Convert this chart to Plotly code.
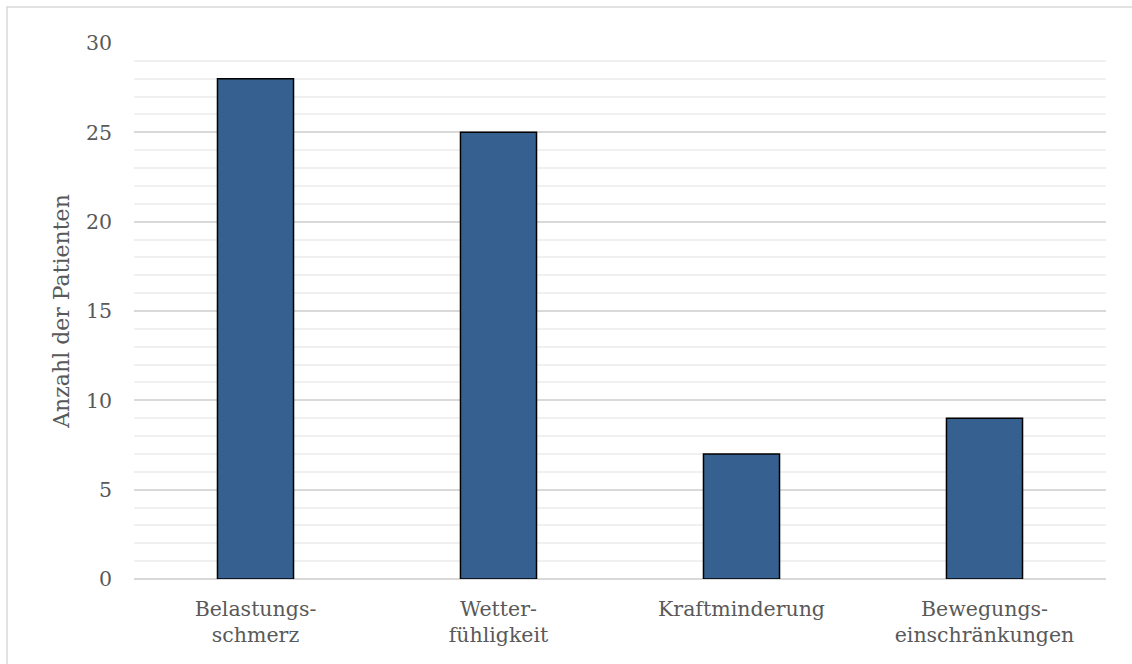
import plotly.graph_objects as go

categories = ["Belastungs-<br>schmerz", "Wetter-<br>fühligkeit", "Kraftminderung", "Bewegungs-<br>einschränkungen"]
values = [28, 25, 7, 9]
y_ticks = [0, 5, 10, 15, 20, 25, 30]
y_title = "Anzahl der Patienten"

FONT = "DejaVu Serif"
TXT = "#595959"

fig = go.Figure(go.Bar(
    x=categories, y=values,
    marker=dict(color="#35608F", line=dict(color="#000000", width=1.5)),
    hoverinfo="x+y",
))

W, H = 1132, 664
L, R, T, B = 134, 26, 43, 85
pw, ph = W - L - R, H - T - B

fig.update_layout(
    width=W, height=H,
    margin=dict(l=L, r=R, t=T, b=B, autoexpand=False),
    paper_bgcolor="white", plot_bgcolor="white",
    bargap=0.687,
    showlegend=False,
    font=dict(family=FONT, color=TXT, size=20),
    xaxis=dict(
        showgrid=False, showline=False, zeroline=False,
        tickfont=dict(family=FONT, size=20.5, color=TXT),
        ticklabelstandoff=15,
        automargin=False,
    ),
    yaxis=dict(
        range=[0, 30], tickvals=y_ticks, ticktext=[str(v) for v in y_ticks],
        showgrid=True, gridcolor="#d9d9d9", gridwidth=1.5,
        zeroline=True, zerolinecolor="#d9d9d9", zerolinewidth=1.5,
        showline=False,
        minor=dict(dtick=1, showgrid=True, gridcolor="#f0f0f0", gridwidth=1.5),
        tickfont=dict(family=FONT, size=20.5, color=TXT),
        ticklabelstandoff=21,
        automargin=False,
        title=dict(text=y_title, font=dict(family=FONT, size=22, color=TXT), standoff=10),
    ),
    shapes=[dict(
        type="rect", xref="paper", yref="paper",
        x0=(7 - L) / pw, x1=(1140 - L) / pw,
        y0=-(672 - T - ph) / ph, y1=(T + ph - 7) / ph,
        line=dict(color="#d9d9d9", width=1.5), fillcolor="rgba(0,0,0,0)", layer="below",
    )],
)

fig.write_html("out.html")
